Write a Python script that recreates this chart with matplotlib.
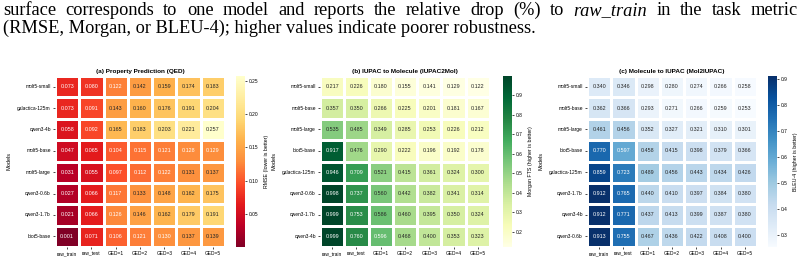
import numpy as np
import pandas as pd
import matplotlib
matplotlib.use("Agg")
import matplotlib.pyplot as plt
import seaborn as sns

columns = ["raw_train", "raw_test", "GED=1", "GED=2", "GED=3", "GED=4", "GED=5"]

# (a) Property Prediction (QED) - RMSE
qed_models = ["molt5-small", "galactica-125m", "qwen3-4b", "molt5-base",
              "molt5-large", "qwen3-0.6b", "qwen3-1.7b", "biot5-base"]
qed_values = [
    [0.073, 0.080, 0.122, 0.142, 0.159, 0.174, 0.183],
    [0.073, 0.091, 0.143, 0.160, 0.176, 0.191, 0.204],
    [0.058, 0.092, 0.165, 0.183, 0.203, 0.221, 0.257],
    [0.047, 0.065, 0.104, 0.115, 0.121, 0.128, 0.129],
    [0.031, 0.055, 0.097, 0.112, 0.122, 0.131, 0.137],
    [0.027, 0.066, 0.117, 0.133, 0.148, 0.162, 0.175],
    [0.021, 0.066, 0.126, 0.146, 0.162, 0.179, 0.191],
    [0.001, 0.071, 0.106, 0.121, 0.130, 0.137, 0.139],
]

# (b) IUPAC to Molecule (IUPAC2Mol) - Morgan FTS
i2m_models = ["molt5-small", "molt5-base", "molt5-large", "biot5-base",
              "galactica-125m", "qwen3-0.6b", "qwen3-1.7b", "qwen3-4b"]
i2m_values = [
    [0.217, 0.226, 0.180, 0.155, 0.141, 0.129, 0.122],
    [0.357, 0.350, 0.266, 0.225, 0.201, 0.181, 0.167],
    [0.535, 0.485, 0.349, 0.285, 0.253, 0.226, 0.212],
    [0.917, 0.476, 0.290, 0.222, 0.196, 0.192, 0.178],
    [0.946, 0.709, 0.521, 0.415, 0.361, 0.324, 0.300],
    [0.998, 0.737, 0.560, 0.442, 0.382, 0.341, 0.314],
    [0.999, 0.753, 0.586, 0.460, 0.395, 0.350, 0.324],
    [0.999, 0.760, 0.596, 0.468, 0.400, 0.353, 0.323],
]

# (c) Molecule to IUPAC (Mol2IUPAC) - BLEU-4
m2i_models = ["molt5-small", "molt5-base", "molt5-large", "biot5-base",
              "galactica-125m", "qwen3-1.7b", "qwen3-4b", "qwen3-0.6b"]
m2i_values = [
    [0.340, 0.346, 0.298, 0.280, 0.274, 0.266, 0.258],
    [0.362, 0.366, 0.293, 0.271, 0.266, 0.259, 0.253],
    [0.461, 0.456, 0.352, 0.327, 0.321, 0.310, 0.301],
    [0.770, 0.597, 0.458, 0.415, 0.398, 0.379, 0.366],
    [0.859, 0.723, 0.489, 0.456, 0.443, 0.434, 0.426],
    [0.912, 0.765, 0.440, 0.410, 0.397, 0.384, 0.380],
    [0.912, 0.771, 0.437, 0.413, 0.399, 0.387, 0.380],
    [0.913, 0.755, 0.467, 0.436, 0.422, 0.408, 0.400],
]

plt.rcParams['font.family'] = ['Liberation Sans', 'DejaVu Sans']

W, H = 804, 264
fig = plt.figure(figsize=(W / 100, H / 100), dpi=100)

def px_axes(x0, x1, y0, y1):
    return fig.add_axes([x0 / W, (H - y1) / H, (x1 - x0) / W, (y1 - y0) / H])

panels = [
    ("(a) Property Prediction (QED)", qed_models, qed_values, "YlOrRd_r",
     "RMSE (lower is better)", 55, 236),
    ("(b) IUPAC to Molecule (IUPAC2Mol)", i2m_models, i2m_values, "YlGn",
     "Morgan FTS (higher is better)", 320, 503),
    ("(c) Molecule to IUPAC (Mol2IUPAC)", m2i_models, m2i_values, "Blues",
     "BLEU-4 (higher is better)", 587, 768),
]

for title, models, values, cmap, cbar_label, hx, cx in panels:
    df = pd.DataFrame(values, index=models, columns=columns)
    ax = px_axes(hx, hx + 170, 76, 247)
    cax = px_axes(cx, cx + 9, 76, 247)
    sns.heatmap(df, ax=ax, cbar_ax=cax, cmap=cmap, annot=True, fmt=".3f",
                annot_kws={"fontsize": 3.9}, linewidths=0.8, linecolor="white",
                cbar_kws={"label": cbar_label})
    ax.set_title(title, fontsize=4.6, fontweight="bold", pad=2)
    ax.set_ylabel("Models", fontsize=4)
    ax.set_xlabel("")
    ax.tick_params(axis="both", labelsize=3.5, length=1.5, width=0.5, pad=1.5)
    ax.set_yticklabels(models, rotation=0)
    ax.set_xticklabels(columns, rotation=0)
    cax.tick_params(labelsize=3.5, length=1.5, width=0.5, pad=1)
    cax.yaxis.label.set_size(3.8)
    for s in cax.spines.values():
        s.set_visible(False)

# caption text above the figure (first line justified, like the paper)
fs = 13.2
y1, y2 = 1 - 15 / H, 1 - 33 / H
line1 = [("surface", "normal"), ("corresponds", "normal"), ("to", "normal"),
         ("one", "normal"), ("model", "normal"), ("and", "normal"),
         ("reports", "normal"), ("the", "normal"), ("relative", "normal"),
         ("drop", "normal"), ("(%)", "normal"), ("to", "normal"),
         ("raw_train", "italic"), ("in", "normal"), ("the", "normal"),
         ("task", "normal"), ("metric", "normal")]
renderer = fig.canvas.get_renderer()
words = []
for txt, style in line1:
    t = fig.text(0, y1, txt, fontsize=fs, family="Liberation Serif", style=style,
                 va="baseline")
    words.append((t, t.get_window_extent(renderer=renderer).width))
left, right = 3, 798
gap = (right - left - sum(w for _, w in words)) / (len(words) - 1)
x = left
for t, w in words:
    t.set_x(x / W)
    x += w + gap
fig.text(3 / W, y2, "(RMSE, Morgan, or BLEU-4); higher values indicate poorer robustness.",
         fontsize=fs, family="Liberation Serif", va="baseline")

fig.savefig("out.png", dpi=100)
